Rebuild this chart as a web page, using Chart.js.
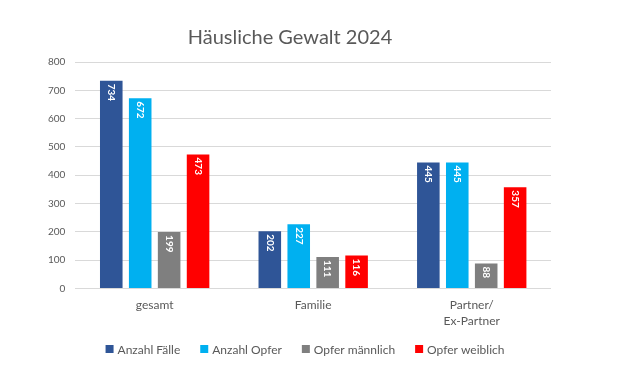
<!DOCTYPE html>
<html>
<head>
<meta charset="utf-8">
<script src="https://cdn.jsdelivr.net/npm/chart.js@4"></script>
<style>
  html, body { margin: 0; padding: 0; background: #fff; }
  #wrap { width: 635px; height: 377px; }
</style>
</head>
<body>
<div id="wrap"><canvas id="chart" width="635" height="377"></canvas></div>
<script>
const chartTitle = 'Häusliche Gewalt 2024';
const categories = ['gesamt', 'Familie', ['Partner/', 'Ex-Partner']];
const seriesNames = ['Anzahl Fälle', 'Anzahl Opfer', 'Opfer männlich', 'Opfer weiblich'];
const anzahlFaelle = [734, 202, 445];
const anzahlOpfer = [672, 227, 445];
const opferMaennlich = [199, 111, 88];
const opferWeiblich = [473, 116, 357];
const yTicks = [0, 100, 200, 300, 400, 500, 600, 700, 800];

const colors = ['#2F5597', '#00B0F0', '#7F7F7F', '#FF0000'];
const textGray = '#595959';
const fontFamily = 'Lato, "Open Sans", sans-serif';

// white vertical value labels just below the top of each bar
const barLabels = {
  id: 'barLabels',
  afterDatasetsDraw(chart) {
    const ctx = chart.ctx;
    ctx.save();
    ctx.fillStyle = '#ffffff';
    ctx.font = 'bold 10px ' + fontFamily;
    ctx.textAlign = 'left';
    ctx.textBaseline = 'middle';
    chart.data.datasets.forEach((ds, i) => {
      const meta = chart.getDatasetMeta(i);
      meta.data.forEach((bar, j) => {
        ctx.save();
        ctx.translate(bar.x, bar.y + 3);
        ctx.rotate(Math.PI / 2);
        ctx.fillText(String(ds.data[j]), 0, 0);
        ctx.restore();
      });
    });
    ctx.restore();
  }
};

// title and legend drawn by hand so they can sit where the original has them
const titleAndLegend = {
  id: 'titleAndLegend',
  afterDraw(chart) {
    const ctx = chart.ctx;
    ctx.save();
    ctx.fillStyle = textGray;
    ctx.font = '20px ' + fontFamily;
    ctx.textAlign = 'center';
    ctx.textBaseline = 'alphabetic';
    ctx.fillText(chartTitle, 290, 44);

    ctx.font = '12px ' + fontFamily;
    ctx.textAlign = 'left';
    ctx.textBaseline = 'middle';
    const box = 8, textGap = 4, itemGap = 20;
    const widths = chart.data.datasets.map(ds => box + textGap + ctx.measureText(ds.label).width);
    const total = widths.reduce((a, b) => a + b, 0) + itemGap * (widths.length - 1);
    let x = 305 - total / 2;
    const y = 349;
    chart.data.datasets.forEach((ds, i) => {
      ctx.fillStyle = ds.backgroundColor;
      ctx.fillRect(x, y - box / 2, box, box);
      ctx.fillStyle = textGray;
      ctx.fillText(ds.label, x + box + textGap, y + 1);
      x += widths[i] + itemGap;
    });
    ctx.restore();
  }
};

const ctx = document.getElementById('chart').getContext('2d');
new Chart(ctx, {
  type: 'bar',
  data: {
    labels: categories,
    datasets: [anzahlFaelle, anzahlOpfer, opferMaennlich, opferWeiblich].map((values, i) => ({
      label: seriesNames[i],
      data: values,
      backgroundColor: colors[i],
      categoryPercentage: 0.73,
      barPercentage: 0.78
    }))
  },
  plugins: [barLabels, titleAndLegend],
  options: {
    responsive: false,
    animation: false,
    layout: { padding: { top: 62, left: 38, right: 84, bottom: 39 } },
    scales: {
      x: {
        grid: { display: false, drawTicks: false },
        border: { display: false },
        ticks: { color: textGray, font: { family: fontFamily, size: 12, lineHeight: 1.4 }, padding: 8 }
      },
      y: {
        min: 0,
        max: 800,
        afterBuildTicks(scale) { scale.ticks = yTicks.map(v => ({ value: v })); },
        grid: { color: '#D9D9D9', drawTicks: false },
        border: { display: false },
        ticks: { color: textGray, font: { family: fontFamily, size: 10 }, padding: 10 }
      }
    },
    plugins: {
      title: { display: false },
      legend: { display: false },
      tooltip: { enabled: false }
    }
  }
});
</script>
</body>
</html>
